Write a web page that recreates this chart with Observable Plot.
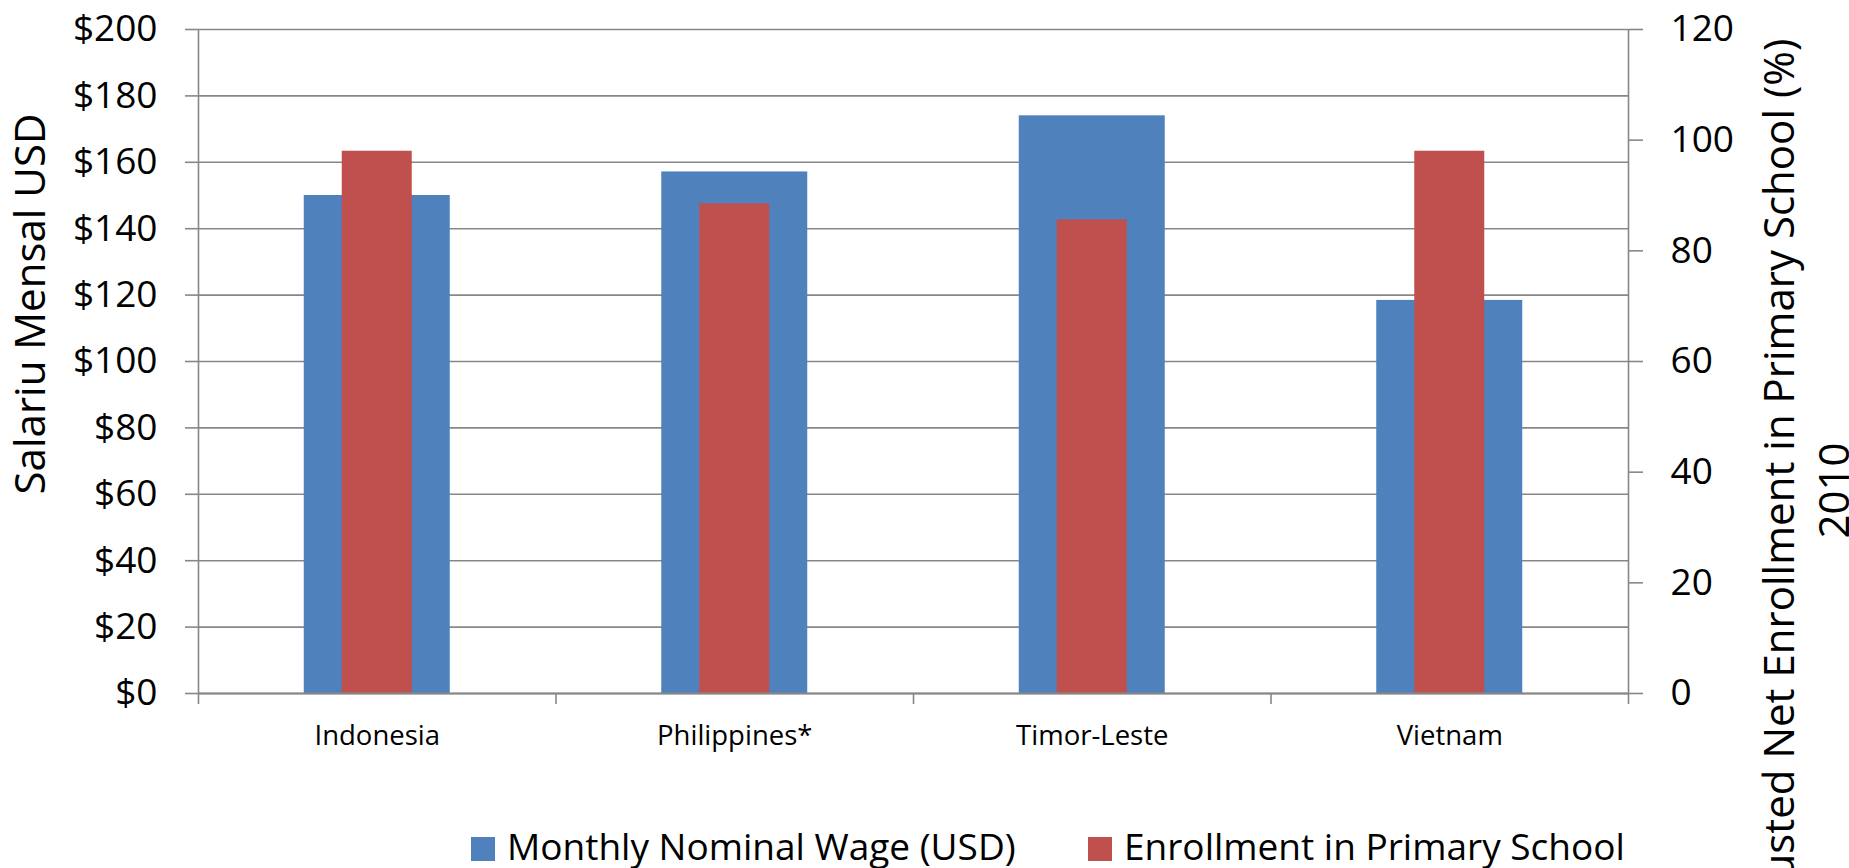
<!DOCTYPE html>
<html>
<head>
<meta charset="utf-8">
<script src="https://cdn.jsdelivr.net/npm/d3@7"></script>
<script src="https://cdn.jsdelivr.net/npm/@observablehq/plot@0.6"></script>
<style>
  html, body { margin: 0; padding: 0; background: #fff; overflow: hidden; }
  #wrap { position: relative; width: 1849px; height: 868px; font-family: "Open Sans", sans-serif; }
  .sw { position: absolute; width: 24px; height: 24px; }
  .lt { position: absolute; font-size: 37px; line-height: 37px; color: #000; white-space: nowrap; }
</style>
</head>
<body>
<div id="wrap"></div>
<script>
// ---- data ----
const categories = ["Indonesia", "Philippines*", "Timor-Leste", "Vietnam"];
const wageUSD = [150, 157.1, 174, 118.4];
const enrollmentPct = [98, 88.5, 85.6, 98];
const wageTicks = [0, 20, 40, 60, 80, 100, 120, 140, 160, 180, 200];
const enrollTicks = [0, 20, 40, 60, 80, 100, 120];
const seriesNames = ["Monthly Nominal Wage (USD)", "Enrollment in Primary School"];
const seriesColors = ["#4F81BD", "#C0504D"];
const leftTitle = "Salariu Mensal USD";
const rightTitle = "Adjusted Net Enrollment in Primary School (%)\n2010";

// ---- layout ----
const W = 1849, H = 868;
const mL = 198, mR = 221, mT = 29, mB = 175;
const frameH = H - mT - mB;
const step = (W - mL - mR) / categories.length;
const gray = "#878787";
const ratio = wageTicks[wageTicks.length - 1] / enrollTicks[enrollTicks.length - 1];

const rows = categories.map((c, i) => ({category: c, wage: wageUSD[i], enroll: enrollmentPct[i]}));

const chart = Plot.plot({
  width: W,
  height: H,
  marginLeft: mL,
  marginRight: mR,
  marginTop: mT,
  marginBottom: mB,
  style: {fontFamily: "'Open Sans', sans-serif", fontSize: "37px", color: "#000", background: "#fff"},
  x: {type: "band", domain: categories, paddingInner: 0.5916, paddingOuter: 0.2958, align: 0.5, round: false},
  y: {type: "linear", domain: [wageTicks[0], wageTicks[wageTicks.length - 1]], round: false},
  marks: [
    Plot.ruleY(wageTicks, {stroke: gray, strokeWidth: 1.6}),
    Plot.barY(rows, {x: "category", y: "wage", fill: seriesColors[0]}),
    Plot.barY(rows, {x: "category", y: d => d.enroll * ratio, fill: seriesColors[1], insetLeft: 38, insetRight: 38}),
    Plot.ruleY([0], {stroke: gray, strokeWidth: 1.8}),
    Plot.ruleX([categories[0]], {x: d => d, dx: -step / 2, insetBottom: -11, stroke: gray, strokeWidth: 1.6}),
    Plot.ruleX([categories[categories.length - 1]], {x: d => d, dx: step / 2, insetBottom: -11, stroke: gray, strokeWidth: 1.6}),
    Plot.ruleX(categories.slice(1), {x: d => d, dx: -step / 2, insetTop: frameH, insetBottom: -11, stroke: gray, strokeWidth: 1.6}),
    Plot.axisY({anchor: "left", ticks: wageTicks, tickFormat: d => "$" + d, tickSize: 13, tickPadding: 28,
      stroke: gray, strokeWidth: 1.6, fill: "#000", fontSize: 37, label: null}),
    Plot.axisY({anchor: "right", ticks: enrollTicks.map(v => v * ratio), tickFormat: d => String(Math.round(d / ratio)),
      tickSize: 14, tickPadding: 28, stroke: gray, strokeWidth: 1.6, fill: "#000", fontSize: 37, label: null}),
    Plot.axisX({anchor: "bottom", tickSize: 0, tickPadding: 31.5, fill: "#000", fontSize: 27.5, label: null}),
    Plot.text([leftTitle], {text: d => d, frameAnchor: "top-left", dx: 30.6 - mL, dy: 303.5 - mT,
      rotate: -90, textAnchor: "middle", lineAnchor: "middle", fontSize: 42, fill: "#000"}),
    Plot.text([rightTitle], {text: d => d, frameAnchor: "top-right", dx: 1802.9 - (W - mR), dy: 490 - mT,
      rotate: -90, textAnchor: "middle", lineAnchor: "middle", fontSize: 42, lineHeight: 1.31, fill: "#000"})
  ]
});

const wrap = document.getElementById("wrap");
wrap.appendChild(chart);

// ---- legend ----
const legendPos = [{sw: 471, tx: 507}, {sw: 1088, tx: 1124}];
seriesNames.forEach((name, i) => {
  const sw = document.createElement("div");
  sw.className = "sw";
  sw.style.left = legendPos[i].sw + "px";
  sw.style.top = "837px";
  sw.style.background = seriesColors[i];
  wrap.appendChild(sw);
  const t = document.createElement("div");
  t.className = "lt";
  t.style.left = legendPos[i].tx + "px";
  t.style.top = "827px";
  t.textContent = name;
  wrap.appendChild(t);
});
chart.style.position = "absolute";
chart.style.left = "0px";
chart.style.top = "0px";
</script>
</body>
</html>
